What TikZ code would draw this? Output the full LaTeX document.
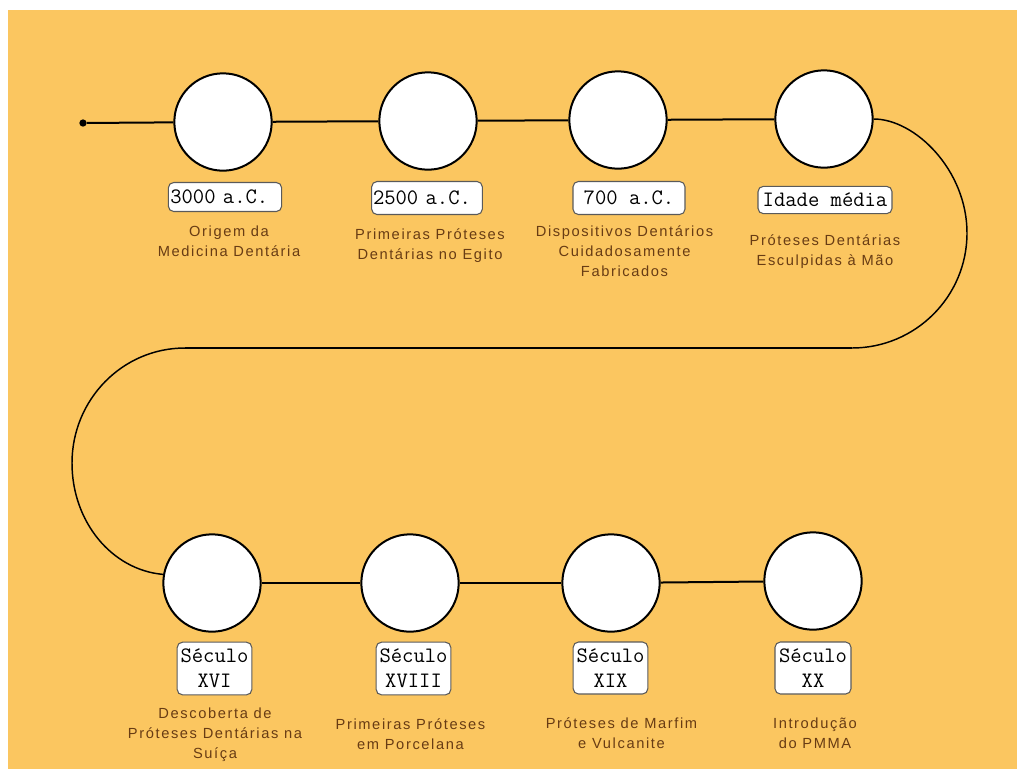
\documentclass[tikz,border=0pt]{standalone}
\usepackage{fontspec}
\newfontfamily\descfont{Liberation Sans}[LetterSpace=11]
\definecolor{bgorange}{RGB}{251,198,96}
\definecolor{desctext}{RGB}{104,60,20}
\definecolor{boxline}{RGB}{90,90,90}
\begin{document}
\begin{tikzpicture}[x=0.75pt,y=-0.75pt,
  event/.style={circle, draw=black, line width=1.5pt, fill=white, minimum size=73pt, inner sep=0pt},
  startdot/.style={circle, fill=black, inner sep=0pt, minimum size=5.5pt},
  datebox/.style={rectangle, rounded corners=4pt, draw=boxline, line width=0.8pt, fill=white,
    font=\ttfamily\fontsize{16.5}{19}\selectfont, align=center, inner sep=0pt},
  desc/.style={font=\descfont\fontsize{11}{15}\selectfont, text=desctext, align=center, inner sep=0pt},
  link/.style={line width=1.5pt},
  curveline/.style={line width=1.1pt}]
\useasboundingbox (0,0) rectangle (1017,769);
\fill[bgorange] (8,10) rectangle (1017,769);

% events
\node[event] (c1) at (223,122) {};
\node[event] (c2) at (428,121) {};
\node[event] (c3) at (618,120) {};
\node[event] (c4) at (824,119) {};
\node[event] (c5) at (212,583) {};
\node[event] (c6) at (410,583) {};
\node[event] (c7) at (611,583) {};
\node[event] (c8) at (813,581) {};
\node[startdot] (s) at (83,123) {};

\coordinate (r1) at (852,348);
\coordinate (l1) at (185,348);

% connectors
\draw[link] (s) -- (c1);
\draw[link] (c1) -- (c2);
\draw[link] (c2) -- (c3);
\draw[link] (c3) -- (c4);
\draw[curveline] (c4.east) .. controls (915,119) and (967,170) .. (967,233)
  .. controls (967,297) and (915,348) .. (r1);
\draw[link] (r1) -- (l1);
\draw[curveline] (l1) .. controls (122,348) and (72,400) .. (72,463)
  .. controls (72,522) and (112,570) .. (c5.170);
\draw[link] (c5) -- (c6);
\draw[link] (c6) -- (c7);
\draw[link] (c7) -- (c8);

% date boxes
\node[datebox, minimum height=21.75pt, text width=82pt, inner xsep=1.5pt, align=left] (d1) at (225,197) {3000 a.C.};
\node[datebox, minimum height=24.75pt, text width=81pt, inner xsep=1pt, align=left] (d2) at (427,198) {2500 a.C.};
\node[datebox, minimum height=24.75pt, minimum width=84pt] (d3) at (629,198) {700 a.C.};
\node[datebox, minimum height=20.5pt, minimum width=100.5pt] (d4) at (825,200) {Idade média};
\node[datebox, minimum height=39.5pt, minimum width=56pt] (d5) at (214.5,668.5) {Século\\XVI};
\node[datebox, minimum height=39.5pt, minimum width=56pt] (d6) at (413.5,668.5) {Século\\XVIII};
\node[datebox, minimum height=39pt, minimum width=56pt] (d7) at (610.5,668) {Século\\XIX};
\node[datebox, minimum height=39pt, minimum width=57pt] (d8) at (813,668) {Século\\XX};

% descriptions
\node[desc] (t1) at (229,241) {Origem da\\Medicina Dentária};
\node[desc] (t2) at (430,246) {Primeiras Próteses\\Dentárias no Egito};
\node[desc] (t3) at (624.5,251) {Dispositivos Dentários\\Cuidadosamente\\Fabricados};
\node[desc] (t4) at (825,252) {Próteses Dentárias\\Esculpidas à Mão};
\node[desc] (t5) at (215,735) {Descoberta de\\Próteses Dentárias na\\Suíça};
\node[desc] (t6) at (410.5,734) {Primeiras Próteses\\em Porcelana};
\node[desc] (t7) at (621.5,733) {Próteses de Marfim\\e Vulcanite};
\node[desc] (t8) at (815,733) {Introdução\\do PMMA};
\end{tikzpicture}
\end{document}
